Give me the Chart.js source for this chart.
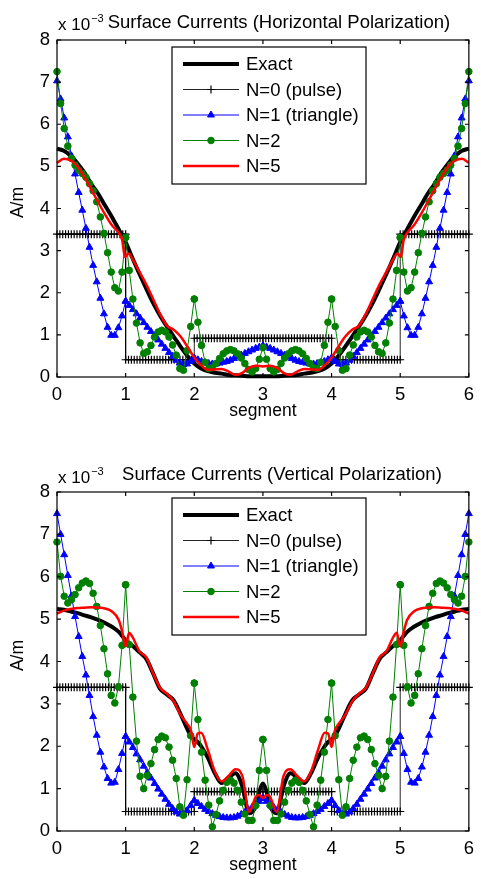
<!DOCTYPE html>
<html>
<head>
<meta charset="utf-8">
<script src="https://cdn.jsdelivr.net/npm/chart.js@4.4.2/dist/chart.umd.min.js"></script>
<style>
  html, body { margin: 0; padding: 0; background: #fff; }
  #wrap { position: relative; width: 481px; height: 879px; }
  canvas { position: absolute; left: 0; }
</style>
</head>
<body>
<div id="wrap">
  <canvas id="horiz" width="481" height="440" style="top:0"></canvas>
  <canvas id="vert" width="481" height="439" style="top:440px"></canvas>
</div>
<script>
// ---- data (values in units of 1e-3 A/m) ----
const xTickValues = [0, 1, 2, 3, 4, 5, 6];
const yTickValues = [0, 1, 2, 3, 4, 5, 6, 7, 8];
const seriesLabels = ['Exact', 'N=0 (pulse)', 'N=1 (triangle)', 'N=2', 'N=5'];

// segment start positions and the sample positions inside one segment
const segments = [0, 1, 2, 3, 4, 5];
const localT = [0, 0.0526, 0.1053, 0.1579, 0.2105, 0.2632, 0.3158, 0.3684, 0.4211, 0.4737,
                0.5263, 0.5789, 0.6316, 0.6842, 0.7368, 0.7895, 0.8421, 0.8947, 0.9474, 1];
const pulseT = [0, 0.0417, 0.0833, 0.125, 0.1667, 0.2083, 0.25, 0.2917, 0.3333, 0.375, 0.4167, 0.4583,
                0.5, 0.5417, 0.5833, 0.625, 0.6667, 0.7083, 0.75, 0.7917, 0.8333, 0.875, 0.9167, 0.9583, 1];

// horizontal polarization
const exactX = [0, 0.1, 0.2, 0.3, 0.4, 0.5, 0.6, 0.7, 0.8, 0.9, 1, 1.1, 1.2, 1.3, 1.4, 1.5, 1.6, 1.7, 1.8, 1.9,
                2, 2.1, 2.2, 2.3, 2.4, 2.5, 2.6, 2.7, 2.8, 2.9, 3, 3.1, 3.2, 3.3, 3.4, 3.5, 3.6, 3.7, 3.8, 3.9,
                4, 4.1, 4.2, 4.3, 4.4, 4.5, 4.6, 4.7, 4.8, 4.9, 5, 5.1, 5.2, 5.3, 5.4, 5.5, 5.6, 5.7, 5.8, 5.9, 6];
const hExact = [5.42, 5.37, 5.25, 5.07, 4.85, 4.58, 4.35, 4.07, 3.8, 3.5, 3.2, 2.82, 2.45, 2.1, 1.76, 1.46, 1.2, 0.96, 0.72, 0.5,
                0.32, 0.2, 0.14, 0.1, 0.08, 0.05, 0.04, 0.03, 0.02, 0.02, 0.02, 0.02, 0.02, 0.03, 0.04, 0.05, 0.08, 0.1, 0.14, 0.2,
                0.32, 0.5, 0.72, 0.96, 1.2, 1.46, 1.76, 2.1, 2.45, 2.82, 3.2, 3.5, 3.8, 4.07, 4.35, 4.58, 4.85, 5.07, 5.25, 5.37, 5.42];
const hPulse = [3.39, 0.41, 0.92, 0.92, 0.41, 3.39];
const hN1 = [
  7.03, 6.6, 6.15, 5.7, 5.25, 4.82, 4.38, 3.96, 3.53, 3.08, 2.65, 2.26, 1.87, 1.5, 1.18, 0.99, 0.99, 1.17, 1.45, 1.8,
  1.8, 1.7, 1.6, 1.5, 1.4, 1.29, 1.18, 1.08, 0.98, 0.88, 0.78, 0.68, 0.58, 0.49, 0.4, 0.33, 0.3, 0.31, 0.37, 0.45,
  0.45, 0.41, 0.37, 0.34, 0.32, 0.31, 0.31, 0.33, 0.35, 0.37, 0.4, 0.44, 0.48, 0.52, 0.56, 0.6, 0.64, 0.68, 0.71, 0.74,
  0.74, 0.71, 0.68, 0.64, 0.6, 0.56, 0.52, 0.48, 0.44, 0.4, 0.37, 0.35, 0.33, 0.31, 0.31, 0.32, 0.34, 0.37, 0.41, 0.45,
  0.45, 0.37, 0.31, 0.3, 0.33, 0.4, 0.49, 0.58, 0.68, 0.78, 0.88, 0.98, 1.08, 1.18, 1.29, 1.4, 1.5, 1.6, 1.7, 1.8,
  1.8, 1.45, 1.17, 0.99, 0.99, 1.18, 1.5, 1.87, 2.26, 2.65, 3.08, 3.53, 3.96, 4.38, 4.82, 5.25, 5.7, 6.15, 6.6, 7.03];
const hN2 = [
  7.25, 6.49, 5.9, 5.48, 5.19, 5.03, 4.91, 4.83, 4.74, 4.59, 4.42, 4.16, 3.8, 3.41, 2.95, 2.49, 2.12, 2.04, 2.49, 3.31,
  3.31, 2.53, 1.85, 1.28, 0.81, 0.56, 0.6, 0.75, 0.95, 1.07, 1.11, 1.07, 0.95, 0.76, 0.52, 0.2, 0.16, 0.63, 1.2, 1.85,
  1.85, 1.3, 0.75, 0.35, 0.2, 0.22, 0.32, 0.44, 0.55, 0.62, 0.65, 0.62, 0.55, 0.45, 0.32, 0.18, 0.12, 0.2, 0.42, 0.7,
  0.7, 0.42, 0.2, 0.12, 0.18, 0.32, 0.45, 0.55, 0.62, 0.65, 0.62, 0.55, 0.44, 0.32, 0.22, 0.2, 0.35, 0.75, 1.3, 1.85,
  1.85, 1.2, 0.63, 0.16, 0.2, 0.52, 0.76, 0.95, 1.07, 1.11, 1.07, 0.95, 0.75, 0.6, 0.56, 0.81, 1.28, 1.85, 2.53, 3.31,
  3.31, 2.49, 2.04, 2.12, 2.49, 2.95, 3.41, 3.8, 4.16, 4.42, 4.59, 4.74, 4.83, 4.91, 5.03, 5.19, 5.48, 5.9, 6.49, 7.25];
const hRedX = [0, 0.1, 0.2, 0.3, 0.4, 0.5, 0.6, 0.7, 0.8, 0.9, 0.95, 0.99, 1.04, 1.1, 1.2, 1.3, 1.4, 1.5, 1.6, 1.7, 1.8, 1.9,
               2, 2.1, 2.2, 2.3, 2.4, 2.5, 2.6, 2.7, 2.8, 2.9, 3, 3.1, 3.2, 3.3, 3.4, 3.5, 3.6, 3.7, 3.8, 3.9,
               4, 4.1, 4.2, 4.3, 4.4, 4.5, 4.6, 4.7, 4.8, 4.9, 4.96, 5.01, 5.05, 5.1, 5.2, 5.3, 5.4, 5.5, 5.6, 5.7, 5.8, 5.9, 6];
const hRed = [5.08, 5.18, 5.14, 5.0, 4.74, 4.45, 4.15, 3.86, 3.6, 3.42, 3.25, 2.85, 2.93, 2.8, 2.5, 2.2, 1.85, 1.5, 1.22, 1.12, 0.96, 0.72,
              0.46, 0.28, 0.17, 0.18, 0.19, 0.13, 0.05, 0.1, 0.22, 0.27, 0.25, 0.27, 0.22, 0.1, 0.05, 0.13, 0.19, 0.18, 0.17, 0.28,
              0.46, 0.72, 0.96, 1.12, 1.22, 1.5, 1.85, 2.2, 2.5, 2.8, 2.93, 2.85, 3.25, 3.42, 3.6, 3.86, 4.15, 4.45, 4.74, 5.0, 5.14, 5.18, 5.08];

// vertical polarization
const vFineX = [0, 0.1, 0.2, 0.3, 0.4, 0.5, 0.6, 0.7, 0.8, 0.9, 0.95, 1, 1.05, 1.1, 1.2, 1.3, 1.4, 1.5, 1.6, 1.7, 1.8, 1.9, 1.95,
                2, 2.05, 2.1, 2.2, 2.3, 2.4, 2.5, 2.6, 2.7, 2.8, 2.9, 2.95, 3, 3.05, 3.1, 3.2, 3.3, 3.4, 3.5, 3.6, 3.7, 3.8, 3.9, 3.95,
                4, 4.05, 4.1, 4.2, 4.3, 4.4, 4.5, 4.6, 4.7, 4.8, 4.9, 4.95, 5, 5.05, 5.1, 5.2, 5.3, 5.4, 5.5, 5.6, 5.7, 5.8, 5.9, 6];
const vExact = [5.24, 5.22, 5.18, 5.14, 5.09, 5.04, 4.98, 4.91, 4.82, 4.7, 4.6, 4.5, 4.43, 4.37, 4.22, 4.06, 3.72, 3.36, 3.22, 3.08, 2.76, 2.4, 2.25,
                2.16, 2.1, 2.0, 1.72, 1.36, 1.13, 1.26, 1.36, 1.05, 0.42, 0.6, 0.95, 1.12, 0.95, 0.6, 0.42, 1.05, 1.36, 1.26, 1.13, 1.36, 1.72, 2.0, 2.1,
                2.16, 2.25, 2.4, 2.76, 3.08, 3.22, 3.36, 3.72, 4.06, 4.22, 4.37, 4.43, 4.5, 4.6, 4.7, 4.82, 4.91, 4.98, 5.04, 5.09, 5.14, 5.18, 5.22, 5.24];
const vRed = [5.13, 5.2, 5.24, 5.26, 5.27, 5.28, 5.27, 5.25, 5.18, 4.98, 4.7, 4.36, 4.68, 4.58, 4.24, 4.1, 3.72, 3.38, 3.24, 3.06, 2.74, 2.52, 2.38,
              1.98, 2.3, 2.32, 1.9, 1.4, 1.17, 1.3, 1.46, 1.3, 0.45, 0.82, 0.85, 0.78, 0.85, 0.82, 0.45, 1.3, 1.46, 1.3, 1.17, 1.4, 1.9, 2.32, 2.3,
              1.98, 2.38, 2.52, 2.74, 3.06, 3.24, 3.38, 3.72, 4.1, 4.24, 4.58, 4.68, 4.36, 4.7, 4.98, 5.18, 5.25, 5.27, 5.28, 5.27, 5.26, 5.24, 5.2, 5.13];
const vPulse = [3.39, 0.46, 0.93, 0.93, 0.46, 3.39];
const vN1 = [
  7.49, 7.0, 6.52, 6.03, 5.55, 5.06, 4.59, 4.12, 3.68, 3.2, 2.7, 2.26, 1.86, 1.51, 1.24, 1.13, 1.15, 1.45, 1.83, 2.23,
  2.23, 2.1, 1.97, 1.82, 1.68, 1.53, 1.38, 1.25, 1.12, 0.99, 0.87, 0.75, 0.63, 0.53, 0.45, 0.4, 0.4, 0.48, 0.6, 0.72,
  0.72, 0.65, 0.58, 0.51, 0.46, 0.41, 0.37, 0.34, 0.32, 0.31, 0.31, 0.32, 0.35, 0.39, 0.44, 0.5, 0.56, 0.63, 0.7, 0.77,
  0.77, 0.7, 0.63, 0.56, 0.5, 0.44, 0.39, 0.35, 0.32, 0.31, 0.31, 0.32, 0.34, 0.37, 0.41, 0.46, 0.51, 0.58, 0.65, 0.72,
  0.72, 0.6, 0.48, 0.4, 0.4, 0.45, 0.53, 0.63, 0.75, 0.87, 0.99, 1.12, 1.25, 1.38, 1.53, 1.68, 1.82, 1.97, 2.1, 2.23,
  2.23, 1.83, 1.45, 1.15, 1.13, 1.24, 1.51, 1.86, 2.26, 2.7, 3.2, 3.68, 4.12, 4.59, 5.06, 5.55, 6.03, 6.52, 7.0, 7.49];
const vN2 = [
  6.82, 6.01, 5.54, 5.38, 5.46, 5.58, 5.74, 5.85, 5.9, 5.84, 5.61, 5.3, 4.85, 4.3, 3.71, 3.2, 3.02, 3.4, 4.38, 5.81,
  5.81, 4.4, 3.16, 2.12, 1.29, 1.0, 1.31, 1.59, 1.92, 2.16, 2.24, 2.2, 1.98, 1.67, 1.24, 0.57, 0.37, 1.21, 2.25, 3.49,
  3.49, 2.63, 1.86, 1.2, 0.61, 0.1, 0.39, 0.71, 0.96, 1.15, 1.2, 1.13, 0.96, 0.68, 0.4, 0.25, 0.25, 0.6, 1.43, 2.16,
  2.16, 1.43, 0.6, 0.25, 0.25, 0.4, 0.68, 0.96, 1.13, 1.2, 1.15, 0.96, 0.71, 0.39, 0.1, 0.61, 1.2, 1.86, 2.63, 3.49,
  3.49, 2.25, 1.21, 0.37, 0.57, 1.24, 1.67, 1.98, 2.2, 2.24, 2.16, 1.92, 1.59, 1.31, 1.0, 1.29, 2.12, 3.16, 4.4, 5.81,
  5.81, 4.38, 3.4, 3.02, 3.2, 3.71, 4.3, 4.85, 5.3, 5.61, 5.84, 5.9, 5.85, 5.74, 5.58, 5.46, 5.38, 5.54, 6.01, 6.82];

const FONT = "'Liberation Sans', Arial, Helvetica, sans-serif";
Chart.defaults.font.family = FONT;

// ---- helpers that turn the arrays into {x,y} points ----
function zipPoints(xs, ys) {
  return xs.map((x, i) => ({ x: x, y: ys[i] }));
}
function segmentPoints(values) {
  const pts = [];
  segments.forEach((s, k) => {
    localT.forEach((t, i) => pts.push({ x: s + t, y: values[k * localT.length + i] }));
  });
  return pts;
}
function pulsePoints(levels) {
  const pts = [];
  segments.forEach((s, k) => {
    pulseT.forEach(t => pts.push({ x: s + t, y: levels[k] }));
  });
  return pts;
}

// box, inward ticks, titles and the boxed legend, MATLAB style
const framePlugin = {
  id: 'frame',
  afterDatasetsDraw(chart) {
    const { ctx, chartArea: a, scales } = chart;
    ctx.save();
    ctx.strokeStyle = '#000';
    ctx.lineWidth = 1.2;
    ctx.strokeRect(a.left, a.top, a.right - a.left, a.bottom - a.top);
    const len = 4;
    ctx.beginPath();
    xTickValues.forEach(v => {
      const px = scales.x.getPixelForValue(v);
      ctx.moveTo(px, a.bottom); ctx.lineTo(px, a.bottom - len);
      ctx.moveTo(px, a.top); ctx.lineTo(px, a.top + len);
    });
    yTickValues.forEach(v => {
      const py = scales.y.getPixelForValue(v);
      ctx.moveTo(a.left, py); ctx.lineTo(a.left + len, py);
      ctx.moveTo(a.right, py); ctx.lineTo(a.right - len, py);
    });
    ctx.stroke();
    ctx.restore();
  },
  afterDraw(chart, args, opts) {
    const { ctx, chartArea: a } = chart;
    ctx.save();
    ctx.fillStyle = '#000';

    // title
    ctx.font = '18.5px ' + FONT;
    ctx.textAlign = 'center';
    ctx.textBaseline = 'alphabetic';
    ctx.fillText(opts.title, (a.left + a.right) / 2 + opts.titleShift, a.top - 12);

    // exponent label
    ctx.textAlign = 'left';
    ctx.font = '17px ' + FONT;
    const base = 'x 10';
    ctx.fillText(base, a.left + 1, a.top - opts.expGap);
    const w = ctx.measureText(base).width;
    ctx.font = '11px ' + FONT;
    ctx.fillText('\u22123', a.left + 2 + w, a.top - opts.expGap - 8);

    // axis labels
    ctx.font = '17.5px ' + FONT;
    ctx.textAlign = 'center';
    ctx.textBaseline = 'middle';
    ctx.fillText('segment', (a.left + a.right) / 2, a.bottom + 34);
    ctx.save();
    ctx.translate(18, (a.top + a.bottom) / 2 - 6);
    ctx.rotate(-Math.PI / 2);
    ctx.fillText('A/m', 0, 0);
    ctx.restore();

    // legend box
    const lx = a.left + 115, ly = a.top + opts.legendGap, lw = 194, lh = 137;
    ctx.fillStyle = '#fff';
    ctx.fillRect(lx, ly, lw, lh);
    ctx.strokeStyle = '#000';
    ctx.lineWidth = 1.2;
    ctx.strokeRect(lx, ly, lw, lh);
    ctx.font = '18.5px ' + FONT;
    ctx.textAlign = 'left';
    chart.data.datasets.forEach((ds, i) => {
      const y = ly + 17 + i * 25.5;
      ctx.strokeStyle = ds.borderColor;
      ctx.lineWidth = ds.borderWidth;
      ctx.beginPath();
      ctx.moveTo(lx + 11, y);
      ctx.lineTo(lx + 67, y);
      ctx.stroke();
      if (ds.pointRadius > 0) {
        ctx.fillStyle = ds.pointBackgroundColor;
        ctx.strokeStyle = ds.pointBorderColor;
        ctx.lineWidth = ds.pointBorderWidth;
        Chart.helpers.drawPoint(ctx, { pointStyle: ds.pointStyle, radius: ds.pointRadius, rotation: 0,
                                       borderWidth: ds.pointBorderWidth }, lx + 39, y);
      }
      ctx.fillStyle = '#000';
      ctx.fillText(ds.label, lx + 74, y + 1);
    });
    ctx.restore();
  }
};

function makeChart(id, d, layout) {
  const datasets = [
    { label: seriesLabels[0], data: zipPoints(d.exactX, d.exact), borderColor: '#000', borderWidth: 4,
      pointRadius: 0, cubicInterpolationMode: 'monotone', order: 5 },
    { label: seriesLabels[1], data: pulsePoints(d.pulse), borderColor: 'rgba(0,0,0,0.85)', borderWidth: 1,
      pointStyle: 'cross', pointRadius: 4, pointBorderColor: '#000', pointBackgroundColor: '#000',
      pointBorderWidth: 1.2, order: 4 },
    { label: seriesLabels[2], data: segmentPoints(d.n1), borderColor: '#0000ff', borderWidth: 1,
      pointStyle: 'triangle', pointRadius: 4, pointBorderColor: '#0000ff', pointBackgroundColor: '#0000ff',
      pointBorderWidth: 1, order: 3 },
    { label: seriesLabels[3], data: segmentPoints(d.n2), borderColor: '#008000', borderWidth: 1,
      pointStyle: 'circle', pointRadius: 3.3, pointBorderColor: '#008000', pointBackgroundColor: '#008000',
      pointBorderWidth: 1, order: 2 },
    { label: seriesLabels[4], data: zipPoints(d.redX, d.red), borderColor: '#ff0000', borderWidth: 2.5,
      pointRadius: 0, cubicInterpolationMode: 'monotone', order: 1 }
  ];
  datasets.forEach(ds => { ds.clip = false; ds.fill = false; });

  return new Chart(document.getElementById(id), {
    type: 'line',
    data: { datasets: datasets },
    plugins: [framePlugin],
    options: {
      responsive: false,
      animation: false,
      events: [],
      layout: { padding: { top: layout.top, right: 6, left: 0, bottom: 0 } },
      plugins: {
        legend: { display: false },
        tooltip: { enabled: false },
        frame: { title: layout.title, titleShift: layout.titleShift, expGap: layout.expGap, legendGap: layout.legendGap }
      },
      scales: {
        x: {
          type: 'linear', min: 0, max: 6,
          afterBuildTicks: s => { s.ticks = xTickValues.map(v => ({ value: v })); },
          afterFit: s => { s.height = layout.xHeight; },
          grid: { display: false, drawTicks: false },
          border: { display: false },
          ticks: { padding: 7, color: '#000', font: { size: 18.5 }, maxRotation: 0 }
        },
        y: {
          type: 'linear', min: 0, max: 8,
          afterBuildTicks: s => { s.ticks = yTickValues.map(v => ({ value: v })); },
          afterFit: s => { s.width = 57; },
          grid: { display: false, drawTicks: false },
          border: { display: false },
          ticks: { padding: 7, color: '#000', font: { size: 18.5 } }
        }
      }
    }
  });
}

makeChart('horiz',
  { exactX: exactX, exact: hExact, pulse: hPulse, n1: hN1, n2: hN2, redX: hRedX, red: hRed },
  { top: 40, xHeight: 63, title: 'Surface Currents (Horizontal Polarization)', titleShift: 16, expGap: 10, legendGap: 7 });

makeChart('vert',
  { exactX: vFineX, exact: vExact, pulse: vPulse, n1: vN1, n2: vN2, redX: vFineX, red: vRed },
  { top: 52, xHeight: 48, title: 'Surface Currents (Vertical Polarization)', titleShift: 19, expGap: 9, legendGap: 6 });
</script>
</body>
</html>
